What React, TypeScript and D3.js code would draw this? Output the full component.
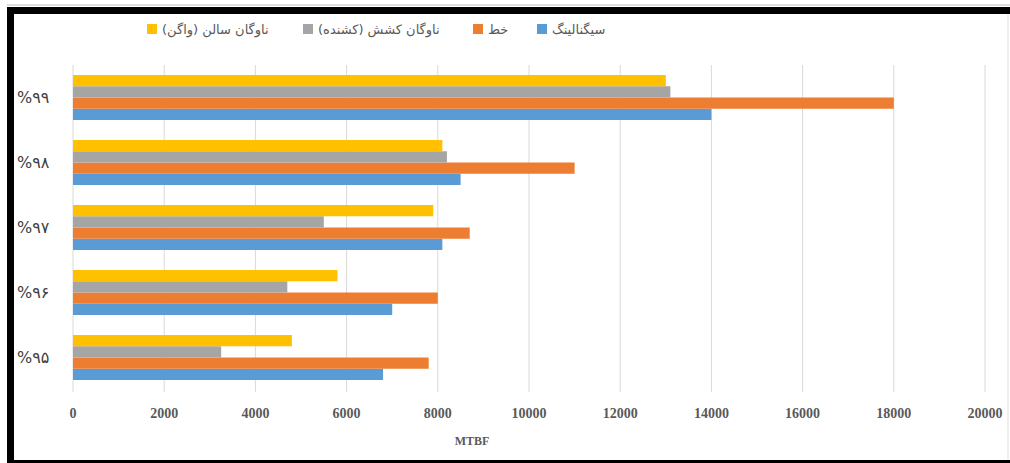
import { useEffect, useRef } from "react";
import * as d3 from "d3";

// categories top to bottom
const categories = ["%۹۹", "%۹۸", "%۹۷", "%۹۶", "%۹۵"];
const seriesNames = ["سیگنالینگ", "خط", "ناوگان کشش (کشنده)", "ناوگان سالن (واگن)"];
const seriesColors = ["#5B9BD5", "#ED7D31", "#A5A5A5", "#FFC000"];

const signaling = [14000, 8500, 8100, 7000, 6800];
const line = [18000, 11000, 8700, 8000, 7800];
const locomotive = [13100, 8200, 5500, 4700, 3250];
const wagon = [13000, 8100, 7900, 5800, 4800];

const xTicks = [0, 2000, 4000, 6000, 8000, 10000, 12000, 14000, 16000, 18000, 20000];

const W = 1010;
const H = 463;
const RLM = "\u200F";

export default function App() {
  const svgRef = useRef<SVGSVGElement>(null);

  useEffect(() => {
    document.body.style.margin = "0";
    if (!svgRef.current) return;
    const svg = d3.select(svgRef.current);
    svg.selectAll("*").remove();

    const margin = { top: 65, bottom: 73, left: 73, right: 25 };
    const x = d3.scaleLinear().domain([0, 20000]).range([margin.left, W - margin.right]);
    const y = d3
      .scaleBand()
      .domain(categories)
      .range([margin.top, H - margin.bottom])
      .paddingInner(20 / 65)
      .paddingOuter(10 / 65);

    const values = [signaling, line, locomotive, wagon];
    // order inside a group: wagon on top, signaling at bottom
    const inner = d3
      .scaleBand<number>()
      .domain([3, 2, 1, 0])
      .range([0, y.bandwidth()]);

    svg.append("rect").attr("width", W).attr("height", H).attr("fill", "#fff");

    // grid
    svg
      .append("g")
      .selectAll("line")
      .data(xTicks)
      .join("line")
      .attr("x1", (d) => x(d))
      .attr("x2", (d) => x(d))
      .attr("y1", margin.top)
      .attr("y2", H - margin.bottom + 2)
      .attr("stroke", "#d9d9d9")
      .attr("stroke-width", 1);

    // bars
    const groups = svg
      .append("g")
      .selectAll("g")
      .data(values.map((v, i) => ({ v, i })))
      .join("g")
      .attr("fill", (d) => seriesColors[d.i]);

    groups
      .selectAll("rect")
      .data((d) => d.v.map((val, j) => ({ val, cat: categories[j], s: d.i })))
      .join("rect")
      .attr("x", x(0))
      .attr("y", (d) => (y(d.cat) ?? 0) + (inner(d.s) ?? 0))
      .attr("width", (d) => x(d.val) - x(0))
      .attr("height", inner.bandwidth());

    // x tick labels
    svg
      .append("g")
      .selectAll("text")
      .data(xTicks)
      .join("text")
      .attr("x", (d) => x(d))
      .attr("y", 418)
      .attr("text-anchor", "middle")
      .attr("font-family", "Liberation Serif, serif")
      .attr("font-size", 14)
      .attr("font-weight", "bold")
      .attr("fill", "#595959")
      .text((d) => String(d));

    svg
      .append("text")
      .attr("x", 472)
      .attr("y", 445)
      .attr("text-anchor", "middle")
      .attr("font-family", "Liberation Serif, serif")
      .attr("font-size", 12)
      .attr("font-weight", "bold")
      .attr("fill", "#595959")
      .text("MTBF");

    // category labels
    svg
      .append("g")
      .selectAll("text")
      .data(categories)
      .join("text")
      .attr("x", 17)
      .attr("y", (d) => (y(d) ?? 0) + y.bandwidth() / 2)
      .attr("dy", "0.35em")
      .attr("font-family", "DejaVu Sans, sans-serif")
      .attr("font-size", 16)
      .attr("fill", "#404040")
      .text((d) => d);

    // legend, left to right
    const legend = [
      { name: seriesNames[3], color: seriesColors[3], x: 147 },
      { name: seriesNames[2], color: seriesColors[2], x: 303 },
      { name: seriesNames[1], color: seriesColors[1], x: 473 },
      { name: seriesNames[0], color: seriesColors[0], x: 537 },
    ];
    const lg = svg.append("g").selectAll("g").data(legend).join("g");
    lg.append("rect")
      .attr("x", (d) => d.x)
      .attr("y", 24)
      .attr("width", 10)
      .attr("height", 10)
      .attr("fill", (d) => d.color);
    lg.append("text")
      .attr("x", (d) => d.x + 15)
      .attr("y", 29)
      .attr("dy", "0.35em")
      .attr("font-family", "DejaVu Sans, sans-serif")
      .attr("font-size", 13)
      .attr("fill", "#595959")
      .text((d) => RLM + d.name + RLM);

    // outer frame
    const frame = svg.append("g").attr("fill", "#000");
    frame.append("rect").attr("x", 7).attr("y", 7).attr("width", W - 7).attr("height", 7);
    frame.append("rect").attr("x", 7).attr("y", 7).attr("width", 7).attr("height", H - 7);
    frame.append("rect").attr("x", 7).attr("y", 460).attr("width", W - 7).attr("height", 3);
    svg
      .append("line")
      .attr("x1", 7)
      .attr("x2", W)
      .attr("y1", 5)
      .attr("y2", 5)
      .attr("stroke", "#bbb");
    svg
      .append("line")
      .attr("x1", 1008)
      .attr("x2", 1008)
      .attr("y1", 14)
      .attr("y2", 460)
      .attr("stroke", "#ddd");
  }, []);

  return (
    <svg
      ref={svgRef}
      width={W}
      height={H}
      style={{ display: "block", position: "absolute", left: 0, top: 0 }}
    />
  );
}
